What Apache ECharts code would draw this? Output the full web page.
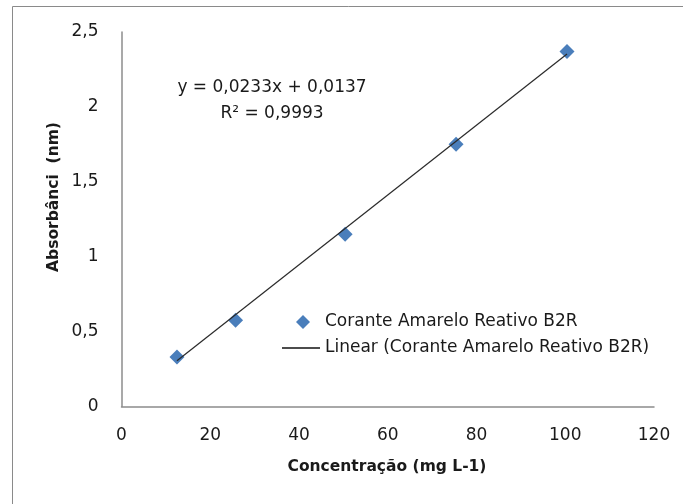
<!DOCTYPE html>
<html>
<head>
<meta charset="utf-8">
<script src="https://cdn.jsdelivr.net/npm/echarts@6/dist/echarts.min.js"></script>
<style>
html,body{margin:0;padding:0;background:#fff;}
#c{width:683px;height:504px;}
</style>
</head>
<body>
<div id="c"></div>
<script>
const concentration = [12.5, 25.7, 50.4, 75.4, 100.4];
const absorbance = [0.33, 0.575, 1.15, 1.75, 2.37];
const trendX = [12.5, 100.4];
const trendY = [0.305, 2.353];
const xTicks = [0, 20, 40, 60, 80, 100, 120];
const yTicks = [0, 0.5, 1, 1.5, 2, 2.5];
const seriesName = 'Corante Amarelo Reativo B2R';
const trendName = 'Linear (Corante Amarelo Reativo B2R)';
const equationText = 'y = 0,0233x + 0,0137';
const r2Text = 'R² = 0,9993';

const FONT = 'DejaVu Sans';
const chart = echarts.init(document.getElementById('c'));
const fmt = v => String(v).replace('.', ',');

chart.setOption({
  animation: false,
  textStyle: { fontFamily: FONT },
  grid: { left: 121.5, right: 29, top: 32, bottom: 97.5, containLabel: false },
  xAxis: {
    type: 'value', min: xTicks[0], max: xTicks[xTicks.length - 1], interval: 20,
    axisLine: { show: true, onZero: false, lineStyle: { color: '#8c8c8c', width: 1.5 } },
    axisTick: { show: false },
    splitLine: { show: false },
    axisLabel: { margin: 21, fontSize: 17, color: '#1a1a1a', fontFamily: FONT, formatter: fmt }
  },
  yAxis: {
    type: 'value', min: yTicks[0], max: yTicks[yTicks.length - 1], interval: 0.5,
    axisLine: { show: true, onZero: false, lineStyle: { color: '#8c8c8c', width: 1.5 } },
    axisTick: { show: false },
    splitLine: { show: false },
    axisLabel: { margin: 23, fontSize: 17, color: '#1a1a1a', fontFamily: FONT, formatter: fmt }
  },
  legend: {
    orient: 'vertical', left: 273, top: 307,
    itemWidth: 42, itemHeight: 16, itemGap: 6,
    symbolKeepAspect: true,
    textStyle: { fontSize: 17, color: '#1a1a1a', fontFamily: FONT, lineHeight: 20 },
    data: [
      { name: seriesName, icon: 'path://M0,0 M42,16 M25,1 L32,8 L25,15 L18,8 Z', itemStyle: { color: '#4A7EBB', opacity: 1 } },
      { name: trendName, icon: 'path://M0,0 M42,16 M4,7.2 L42,7.2 L42,8.8 L4,8.8 Z', itemStyle: { color: '#111111', opacity: 1 } }
    ]
  },
  series: [
    {
      name: seriesName, type: 'scatter', symbol: 'diamond', symbolSize: 15,
      itemStyle: { color: '#4A7EBB', opacity: 1 }, z: 2,
      data: concentration.map((x, i) => [x, absorbance[i]])
    },
    {
      name: trendName, type: 'line', symbol: 'none', z: 3,
      lineStyle: { color: '#2a2a2a', width: 1.2 }, itemStyle: { color: '#111111' },
      data: trendX.map((x, i) => [x, trendY[i]])
    }
  ],
  graphic: [
    { type: 'rect', shape: { x: 12.5, y: 6.5, width: 700, height: 600 },
      style: { fill: 'none', stroke: '#8a8a8a', lineWidth: 1 }, silent: true },
    { type: 'text', x: 272, y: 88,
      style: { text: equationText, font: '17px "DejaVu Sans"', fill: '#1a1a1a', textAlign: 'center', textVerticalAlign: 'middle' } },
    { type: 'text', x: 272, y: 114,
      style: { text: r2Text, font: '17px "DejaVu Sans"', fill: '#1a1a1a', textAlign: 'center', textVerticalAlign: 'middle' } },
    { type: 'text', x: 387, y: 467,
      style: { text: 'Concentração (mg L-1)', font: 'bold 15.5px "DejaVu Sans"', fill: '#1a1a1a', textAlign: 'center', textVerticalAlign: 'middle' } },
    { type: 'text', x: 54, y: 197, rotation: Math.PI / 2,
      style: { text: 'Absorbânci  (nm)', font: 'bold 15.5px "DejaVu Sans"', fill: '#1a1a1a', textAlign: 'center', textVerticalAlign: 'middle' } }
  ]
});
</script>
</body>
</html>
